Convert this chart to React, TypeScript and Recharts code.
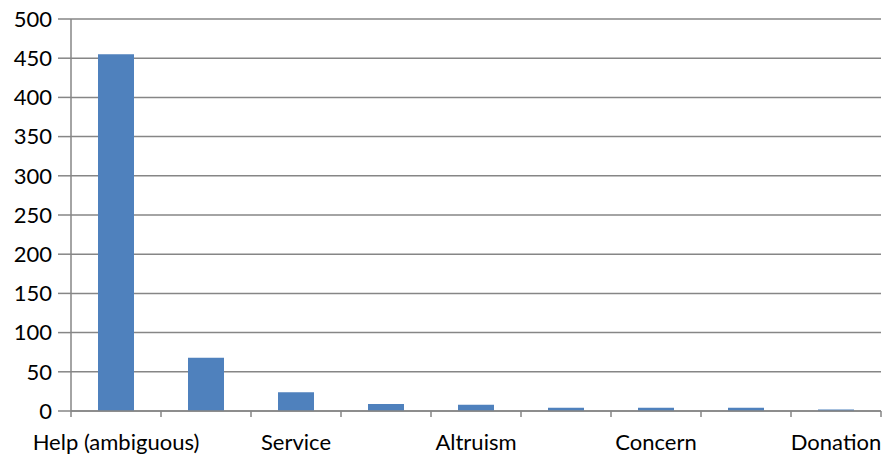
import React from 'react';
import { BarChart, Bar, XAxis, YAxis, CartesianGrid } from 'recharts';

// categories along the x axis (only every other label is printed in the original)
const categories = [
    'Help (ambiguous)',
    'Kindness',
    'Service',
    'Support',
    'Altruism',
    'Generosity',
    'Concern',
    'Charity',
    'Donation',
];
const counts = [455, 68, 24, 9, 8, 4, 4, 4, 2];
const yTicks = [0, 50, 100, 150, 200, 250, 300, 350, 400, 450, 500];

const data = categories.map((name, i) => ({ name, value: counts[i] }));

const FONT = 'Lato, "Open Sans", sans-serif';
const AXIS = '#868686';
const FONT_SIZE = 22;

// x tick: boundary marks between categories, label on every other category
const CategoryTick = (props: any) => {
    const { x, y, index, payload } = props;
    const half = payload.offset || 0;
    const last = index === categories.length - 1;
    return (
        <g>
            <line x1={x - half} y1={y} x2={x - half} y2={y + 6} stroke={AXIS} strokeWidth={1.5} />
            {last && <line x1={x + half} y1={y} x2={x + half} y2={y + 6} stroke={AXIS} strokeWidth={1.5} />}
            {index % 2 === 0 && (
                <text x={x} y={y + 23} dy="0.71em" textAnchor="middle" fill="#000" fontSize={FONT_SIZE} fontFamily={FONT}>
                    {payload.value}
                </text>
            )}
        </g>
    );
};

export default function App() {
    return (
        <div style={{ position: 'absolute', left: 0, top: 0, width: 888, height: 462, background: '#fff' }}>
            <BarChart
                width={888}
                height={462}
                data={data}
                margin={{ top: 19, right: 7, bottom: 0, left: 0 }}
                barCategoryGap="30%"
            >
                <CartesianGrid vertical={false} stroke={AXIS} strokeWidth={1.5} />
                <XAxis
                    dataKey="name"
                    height={51}
                    interval={0}
                    axisLine={{ stroke: AXIS, strokeWidth: 1.5 }}
                    tickLine={false}
                    tickSize={0}
                    tickMargin={0}
                    tick={<CategoryTick />}
                />
                <YAxis
                    width={71}
                    domain={[0, 500]}
                    ticks={yTicks}
                    axisLine={{ stroke: AXIS, strokeWidth: 1.5 }}
                    tickLine={{ stroke: AXIS, strokeWidth: 1.5 }}
                    tickSize={13}
                    tickMargin={6}
                    tick={{ fill: '#000', fontSize: FONT_SIZE, fontFamily: FONT }}
                />
                <Bar dataKey="value" fill="#4f81bd" isAnimationActive={false} />
            </BarChart>
        </div>
    );
}
